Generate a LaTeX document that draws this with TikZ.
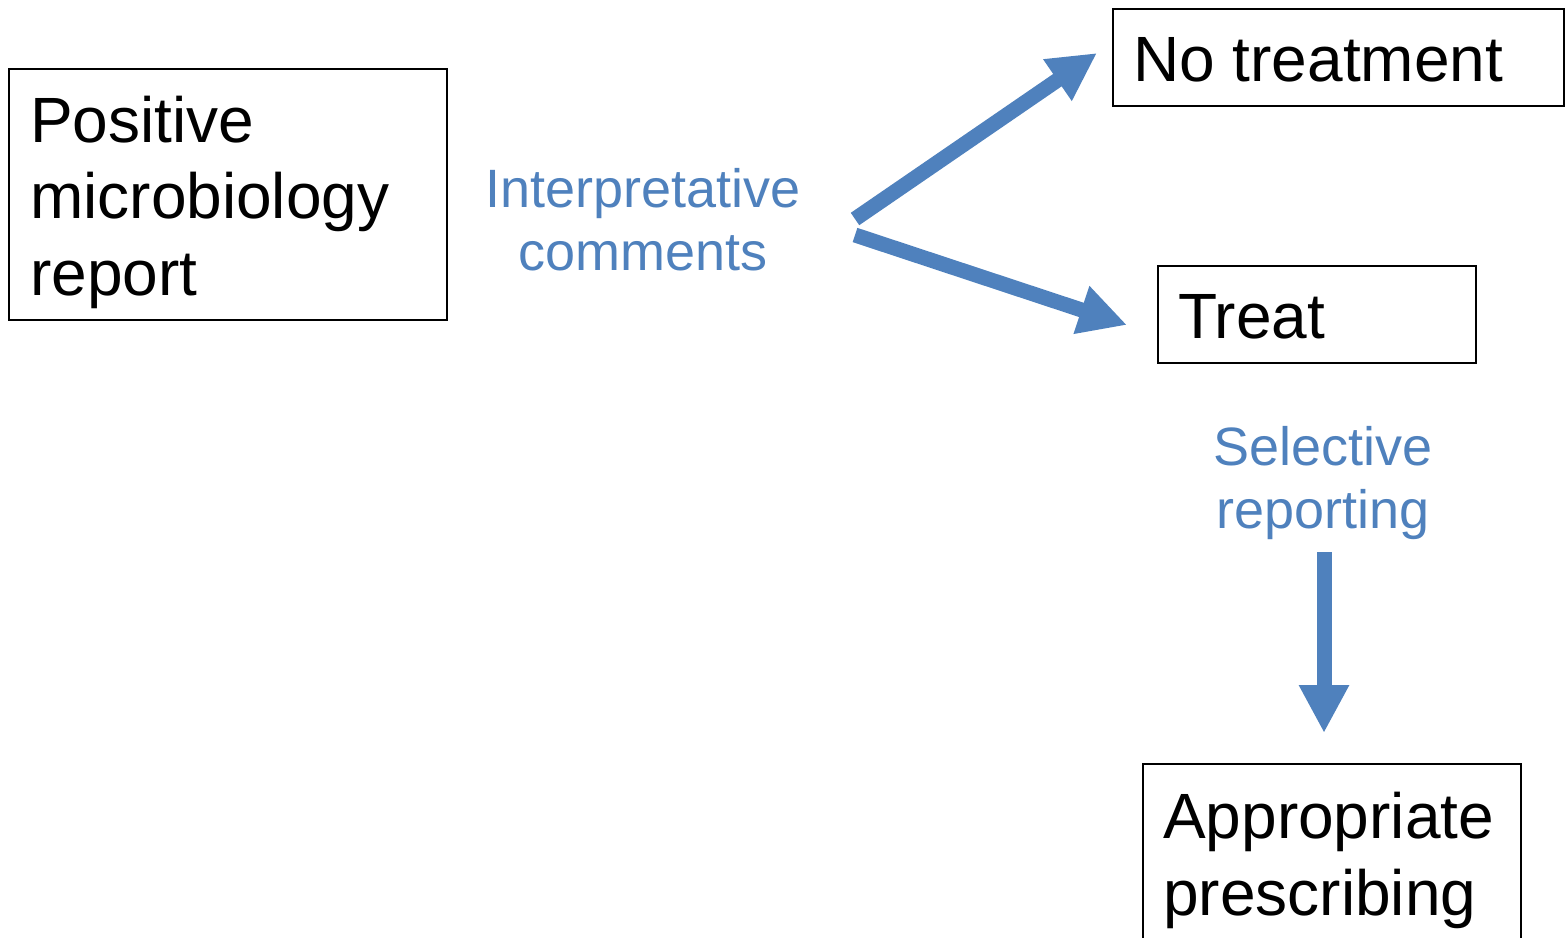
\documentclass[tikz,border=0pt]{standalone}
\usepackage{fontspec}
\setmainfont{Liberation Sans}
\usetikzlibrary{arrows.meta}
\definecolor{accent}{HTML}{4F81BD}
\begin{document}
\begin{tikzpicture}[x=1pt,y=-1pt,
  box/.style={draw=black,line width=1.5pt,rectangle,inner sep=0pt,anchor=north west},
  bigtext/.style={font=\fontsize{64}{76.5}\selectfont,anchor=base west,inner sep=0pt,align=left},
  bluetext/.style={font=\fontsize{54}{63}\selectfont,text=accent,anchor=base,inner sep=0pt,align=center},
  flow/.style={draw=accent,line width=15pt,-{Triangle[width=47pt,length=48pt]}}]
\useasboundingbox (0,0) rectangle (1565,937);
\clip (0,0) rectangle (1565,937);
% boxes
\node[box,minimum width=438pt,minimum height=251pt] (report) at (8,68) {};
\node[box,minimum width=451pt,minimum height=97pt] (notreat) at (1112,8) {};
\node[box,minimum width=318pt,minimum height=97pt] (treat) at (1157,265) {};
\node[box,minimum width=378pt,minimum height=200pt] (approp) at (1142,763) {};
% texts (multi-line nodes: base = baseline of last line)
\node[bigtext] (reportText) at (30,295) {Positive\\microbiology\\report};
\node[bigtext] (notreatText) at (1133,81) {No treatment};
\node[bigtext] (treatText) at (1178,338) {Treat};
\node[bigtext] (appropText) at (1163,915) {Appropriate\\prescribing};
\node[bluetext] (interp) at (643,270) {Interpretative\\comments};
\node[bluetext] (selective) at (1323,528) {Selective\\reporting};
% arrows
\coordinate (upStart) at (855,219);
\coordinate (upEnd) at (1097,53);
\coordinate (downStart) at (855,235);
\coordinate (downEnd) at (1127,325);
\coordinate (selStart) at (1324,552);
\coordinate (selEnd) at (1324,733);
\draw[flow] (upStart) -- (upEnd);
\draw[flow] (downStart) -- (downEnd);
\draw[flow] (selStart) -- (selEnd);
\end{tikzpicture}
\end{document}
